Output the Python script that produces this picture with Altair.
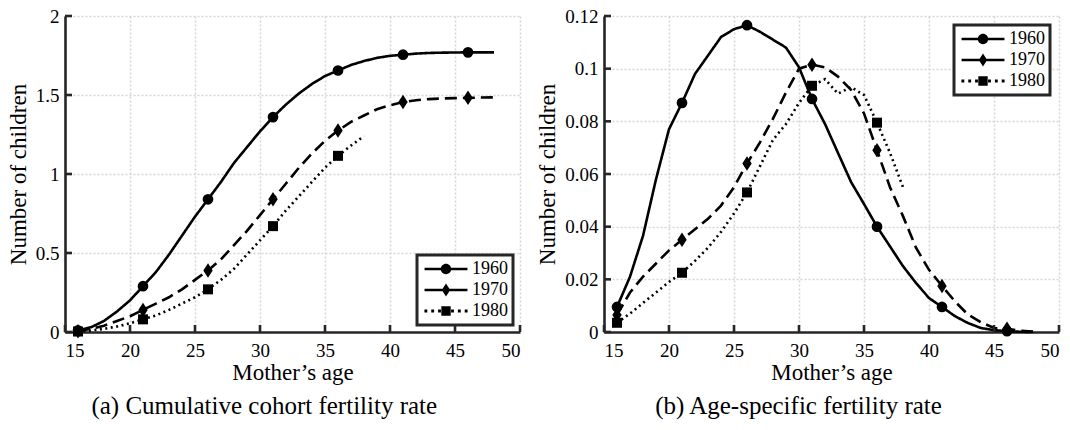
import altair as alt
import pandas as pd

# ---------------- data ----------------
years = ["1960", "1970", "1980"]
ages_full = list(range(16, 49))
ages_1980 = list(range(16, 39))
marker_ages = [16, 21, 26, 31, 36, 41, 46]

cum_1960 = [0.01, 0.03, 0.07, 0.13, 0.20, 0.29, 0.38, 0.49, 0.61, 0.73, 0.84, 0.95,
            1.07, 1.17, 1.27, 1.36, 1.44, 1.51, 1.57, 1.62, 1.655, 1.69, 1.715,
            1.735, 1.748, 1.755, 1.762, 1.766, 1.768, 1.769, 1.77, 1.77, 1.77]
cum_1970 = [0.005, 0.02, 0.04, 0.07, 0.10, 0.14, 0.18, 0.22, 0.27, 0.33, 0.39, 0.46,
            0.55, 0.64, 0.74, 0.84, 0.94, 1.04, 1.13, 1.21, 1.275, 1.33, 1.37,
            1.41, 1.435, 1.455, 1.467, 1.474, 1.478, 1.48, 1.482, 1.484, 1.485]
cum_1980 = [0.003, 0.01, 0.02, 0.035, 0.055, 0.08, 0.105, 0.14, 0.18, 0.22, 0.27, 0.33,
            0.40, 0.49, 0.58, 0.67, 0.77, 0.86, 0.95, 1.04, 1.115, 1.18, 1.24]

rate_1960 = [0.0095, 0.021, 0.0365, 0.058, 0.077, 0.087, 0.098, 0.105, 0.112, 0.115,
             0.1165, 0.114, 0.111, 0.108, 0.1005, 0.0885, 0.079, 0.068, 0.057, 0.0486,
             0.040, 0.0325, 0.025, 0.0186, 0.0129, 0.0095, 0.006, 0.0034, 0.0015,
             0.0007, 0.0003, 0.0001, 0.0]
rate_1970 = [0.0065, 0.015, 0.021, 0.026, 0.031, 0.035, 0.039, 0.043, 0.048, 0.055,
             0.064, 0.072, 0.081, 0.091, 0.100, 0.1015, 0.1005, 0.097, 0.092, 0.083,
             0.069, 0.055, 0.044, 0.032, 0.0236, 0.0175, 0.0116, 0.0066, 0.0037,
             0.0015, 0.0012, 0.0005, 0.0002]
rate_1980 = [0.0035, 0.007, 0.011, 0.015, 0.019, 0.0225, 0.027, 0.032, 0.038, 0.045,
             0.053, 0.063, 0.073, 0.079, 0.087, 0.0935, 0.096, 0.0905, 0.093, 0.090,
             0.0795, 0.068, 0.055]

x_ticks = [15, 20, 25, 30, 35, 40, 45, 50]
y_ticks_a = [0, 0.5, 1, 1.5, 2]
y_ticks_b = [0, 0.02, 0.04, 0.06, 0.08, 0.1, 0.12]

# ---------------- styling ----------------
FONT = "Liberation Serif"
AX = "#262626"
dashes = [[1, 0], [12, 6], [2, 3.5]]
diamond = "M0,-1L0.65,0L0,1L-0.65,0Z"


def rect(x0, x1, h=0.2):
    return f"M{x0},{-h}H{x1}V{h}H{x0}Z"


circle_p = "M-0.8,0A0.8,0.8 0 1,1 0.8,0A0.8,0.8 0 1,1 -0.8,0Z"
square_p = "M-0.72,-0.72H0.72V0.72H-0.72Z"
dots = "".join(rect(c - 0.22, c + 0.22, 0.22) for c in [-3.1, -2.05, -1.0, 1.0, 2.05, 3.1])
legend_paths = [
    rect(-3.3, -0.75) + rect(0.75, 3.3) + circle_p,
    rect(-3.3, -0.55) + rect(0.55, 3.3) + diamond,
    dots + square_p,
]
marker_shapes = ["circle", diamond, "square"]
marker_sizes = [115, 210, 100]
LW = 2.6
PW = 455


def long_df(series):
    rows = []
    for yr, ages, vals in series:
        for a, v in zip(ages, vals):
            rows.append({"age": a, "value": v, "year": yr})
    return pd.DataFrame(rows)


def axis(title, values, fmt, label_pad, title_pad):
    return alt.Axis(
        values=values, title=title, format=fmt, ticks=False, grid=True,
        domainColor=AX, domainWidth=2.6, gridDash=[2, 2], gridColor="#d6d6d6",
        gridWidth=1.6, labelFont=FONT, labelFontSize=19, labelColor="black",
        labelPadding=label_pad, titleFont=FONT, titleFontSize=23,
        titleFontWeight="normal", titleColor="black", titlePadding=title_pad,
    )


def panel(df, ymax, yticks, yfmt, lorient, loff, caption):
    xs = alt.Scale(domain=[15, 50], nice=False, zero=False)
    ys = alt.Scale(domain=[0, ymax], nice=False)
    xax = axis("Mother’s age", x_ticks, "d", 9, 1)
    yax = axis("Number of children", yticks, yfmt, 6, 5)

    layers = []
    for i, yr in enumerate(years):
        sub = df[df["year"] == yr]
        layers.append(
            alt.Chart(sub).mark_line(color="black", strokeWidth=LW,
                                     strokeDash=dashes[i]).encode(
                x=alt.X("age:Q", scale=xs, axis=xax),
                y=alt.Y("value:Q", scale=ys, axis=yax),
            )
        )
    for i, yr in enumerate(years):
        sub = df[(df["year"] == yr) & (df["age"].isin(marker_ages))]
        layers.append(
            alt.Chart(sub).mark_point(
                filled=True, color="black", opacity=1, shape=marker_shapes[i],
                size=marker_sizes[i]).encode(
                x=alt.X("age:Q", scale=xs, axis=xax),
                y=alt.Y("value:Q", scale=ys, axis=yax))
        )

    leg = alt.Legend(
        orient=lorient, offset=loff, title=None, labelFont=FONT, labelFontSize=18,
        labelColor="black", symbolSize=169, symbolStrokeWidth=0,
        symbolFillColor="black", symbolOffset=15, labelOffset=17, padding=5,
        strokeColor=AX, fillColor="white", cornerRadius=0, rowPadding=3,
    )
    layers.append(
        alt.Chart(df).transform_filter("false").mark_point(
            filled=True, color="black", opacity=1, size=169).encode(
            shape=alt.Shape("year:N",
                            scale=alt.Scale(domain=years, range=legend_paths),
                            legend=leg),
        )
    )

    xt_df = pd.DataFrame({"t": x_ticks, "z": [0] * len(x_ticks)})
    yt_df = pd.DataFrame({"t": yticks, "z": [15] * len(yticks)})
    layers.append(alt.Chart(xt_df).mark_tick(
        orient="vertical", size=7, thickness=2.6, color=AX, yOffset=-3.5,
        opacity=1).encode(x=alt.X("t:Q", scale=xs, axis=xax),
                          y=alt.Y("z:Q", scale=ys, axis=yax)))
    layers.append(alt.Chart(yt_df).mark_tick(
        orient="horizontal", size=7, thickness=2.6, color=AX, xOffset=3.5,
        opacity=1).encode(y=alt.Y("t:Q", scale=ys, axis=yax),
                          x=alt.X("z:Q", scale=xs, axis=xax)))

    return alt.layer(*layers).properties(
        width=PW, height=316,
        title=alt.TitleParams(caption, orient="bottom", anchor="middle",
                              frame="bounds", font=FONT, fontSize=25,
                              fontWeight="normal", color="black", offset=10),
    )


df_a = long_df([("1960", ages_full, cum_1960), ("1970", ages_full, cum_1970),
                ("1980", ages_1980, cum_1980)])
df_b = long_df([("1960", ages_full, rate_1960), ("1970", ages_full, rate_1970),
                ("1980", ages_1980, rate_1980)])

pa = panel(df_a, 2, y_ticks_a, ".1~f", "bottom-right", 7,
           "(a) Cumulative cohort fertility rate")
pb = panel(df_b, 0.12, y_ticks_b, ".2~f", "top-right", 9,
           "(b) Age-specific fertility rate")

chart = alt.hconcat(pa, pb, spacing=84, bounds="flush").resolve_scale(
    shape="independent"
).resolve_legend(shape="independent").properties(
    padding={"left": 6, "top": 6, "right": 0, "bottom": 0}
).configure(
    font=FONT,
    style={"guide-label": {"font": FONT, "fontSize": 19},
           "guide-title": {"font": FONT, "fontSize": 23}},
).configure_view(stroke="transparent").configure_legend(
    strokeWidth=3
).configure_axis(
    labelFont=FONT, titleFont=FONT, domainWidth=2.6, domainColor=AX,
    labelFontSize=19, titleFontSize=23, titleFontWeight="normal",
)

chart.save("out.html", embed_options={"renderer": "svg", "actions": False})
